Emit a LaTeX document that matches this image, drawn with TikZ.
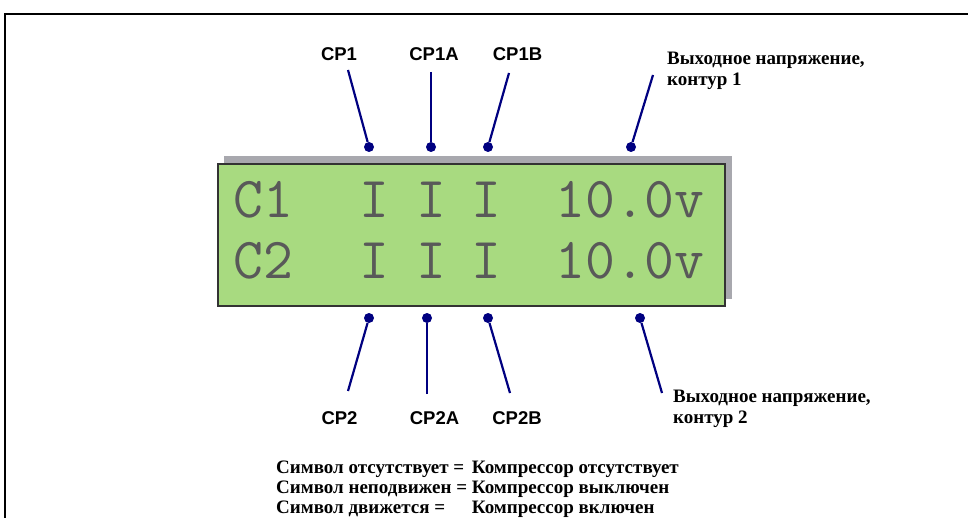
\documentclass[tikz,border=0pt]{standalone}
\usepackage{fontspec}
\setmainfont{Liberation Serif}
\newfontfamily\cpfont{Liberation Sans}

\definecolor{navy}{RGB}{0,0,128}
\definecolor{lcdgreen}{RGB}{168,218,128}
\definecolor{shadowgray}{RGB}{168,168,174}

\tikzset{
  pindot/.style={circle, fill=navy, inner sep=0pt, minimum size=10pt},
  lead/.style={navy, line width=2.2pt},
  cplabel/.style={font=\cpfont\bfseries\fontsize{18.5}{20}\selectfont, inner sep=0pt},
  voltlabel/.style={font=\bfseries\fontsize{19}{21}\selectfont, align=left, inner sep=0pt, anchor=north west},
  lcdchar/.style={font=\ttfamily\fontsize{58}{58}\selectfont, text=black!65, inner sep=0pt, anchor=base},
  legend/.style={font=\bfseries\fontsize{19}{20}\selectfont, inner sep=0pt, anchor=north west}
}

\begin{document}
\begin{tikzpicture}[x=1pt, y=-1pt]
        \useasboundingbox (0,0) rectangle (968,518);
        \draw [line width=2pt]             (5,518) -- (5,14) -- (968,14);      %frame
        \fill [shadowgray]                 (224,156) rectangle (732,299);      %shadow
        \draw [line width=2pt, black!80, fill=lcdgreen] (218,164) rectangle (725,306); %LCD

        \node [lcdchar] (row1c)  at (263.5,218) {C1};                          %row 1
        \node [lcdchar] (row1i1) at (374,218)   {I};
        \node [lcdchar] (row1i2) at (431,218)   {I};
        \node [lcdchar] (row1i3) at (486,218)   {I};
        \node [lcdchar] (row1v)  at (630,218)   {10.0v};
        \node [lcdchar] (row2c)  at (263.5,279) {C2};                          %row 2
        \node [lcdchar] (row2i1) at (374,279)   {I};
        \node [lcdchar] (row2i2) at (431,279)   {I};
        \node [lcdchar] (row2i3) at (486,279)   {I};
        \node [lcdchar] (row2v)  at (630,279)   {10.0v};

        \node [pindot] (d1)  at (369,147) {};                                  %top dots
        \node [pindot] (d1a) at (431,147) {};
        \node [pindot] (d1b) at (488,147) {};
        \node [pindot] (dv1) at (631,147) {};
        \node [pindot] (d2)  at (369,318) {};                                  %bottom dots
        \node [pindot] (d2a) at (427,318) {};
        \node [pindot] (d2b) at (488,318) {};
        \node [pindot] (dv2) at (640,318) {};

        \coordinate (t1)  at (348,70);                                         %free ends
        \coordinate (t1a) at (431,72);
        \coordinate (t1b) at (509,73);
        \coordinate (tv1) at (653,75);
        \coordinate (t2)  at (348,391);
        \coordinate (t2a) at (427,394);
        \coordinate (t2b) at (510,393);
        \coordinate (tv2) at (662,393);

        \draw [lead] (t1)  -- (d1);
        \draw [lead] (t1a) -- (d1a);
        \draw [lead] (t1b) -- (d1b);
        \draw [lead] (tv1) -- (dv1);
        \draw [lead] (t2)  -- (d2);
        \draw [lead] (t2a) -- (d2a);
        \draw [lead] (t2b) -- (d2b);
        \draw [lead] (tv2) -- (dv2);

        \node [cplabel] (cp1)  at (339,54)    {CP1};
        \node [cplabel] (cp1a) at (434,54)    {CP1A};
        \node [cplabel] (cp1b) at (517.5,54)  {CP1B};
        \node [cplabel] (cp2)  at (339.5,418) {CP2};
        \node [cplabel] (cp2a) at (434.5,418) {CP2A};
        \node [cplabel] (cp2b) at (517,418)   {CP2B};

        \node [voltlabel] (volt1) at (667,52)  {Выходное напряжение,\\контур 1};
        \node [voltlabel] (volt2) at (673,390) {Выходное напряжение,\\контур 2};

        \node [legend] (key) at (276,459.5) {\begin{tabular}{@{}l@{\ }l@{}}
          Символ отсутствует = & Компрессор отсутствует\\
          Символ неподвижен = & Компрессор выключен\\
          Символ движется = & Компрессор включен
        \end{tabular}};
      \end{tikzpicture}
\end{document}
